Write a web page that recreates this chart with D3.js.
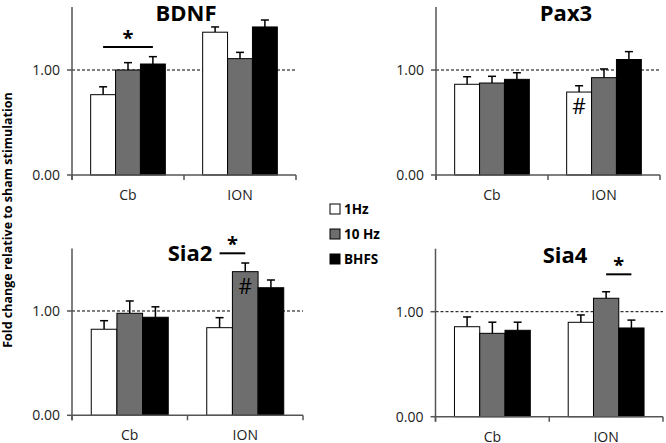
<!DOCTYPE html>
<html><head><meta charset="utf-8">
<script src="https://cdn.jsdelivr.net/npm/d3@7"></script>
<style>body{margin:0;background:#fff}svg{display:block}</style>
</head><body>
<svg id="c" width="666" height="443"></svg>
<script>
const categories = ["Cb", "ION"];
const seriesNames = ["1Hz", "10 Hz", "BHFS"];
const yTicks = [0, 1];
const yTickLabels = ["0.00", "1.00"];

const bdnfMeans = [[0.765, 1.00, 1.057], [1.36, 1.108, 1.41]];
const bdnfErrors = [[0.075, 0.07, 0.07], [0.05, 0.06, 0.066]];
const pax3Means = [[0.864, 0.876, 0.911], [0.79, 0.927, 1.10]];
const pax3Errors = [[0.072, 0.064, 0.063], [0.06, 0.083, 0.075]];
const sia2Means = [[0.825, 0.978, 0.94], [0.84, 1.377, 1.223]];
const sia2Errors = [[0.082, 0.118, 0.10], [0.096, 0.083, 0.074]];
const sia4Means = [[0.857, 0.794, 0.823], [0.899, 1.128, 0.845]];
const sia4Errors = [[0.093, 0.106, 0.077], [0.07, 0.062, 0.075]];

// significance brackets: gene, category, from series, to series, level
const sigBrackets = [
  ["BDNF", "Cb", "1Hz", "BHFS", 1.22],
  ["Sia2", "ION", "1Hz", "10 Hz", 1.553],
  ["Sia4", "ION", "10 Hz", "BHFS", 1.356]
];
// '#' markers: gene, category, series
const hashMarks = [["Pax3", "ION", "1Hz"], ["Sia2", "ION", "10 Hz"]];

const colors = {"1Hz": "#ffffff", "10 Hz": "#6e6e6e", "BHFS": "#000000"};
const FONT = "'Open Sans', 'Liberation Sans', sans-serif";

const panels = [
  {gene: "BDNF", means: bdnfMeans, errors: bdnfErrors, x0: 72, x1: 296, y0: 175, yTop: 7, tx: 186, ty: 21},
  {gene: "Pax3", means: pax3Means, errors: pax3Errors, x0: 436, x1: 660, y0: 175, yTop: 7, tx: 566, ty: 21},
  {gene: "Sia2", means: sia2Means, errors: sia2Errors, x0: 72, x1: 303, y0: 415.3, yTop: 248.4, tx: 190, ty: 261},
  {gene: "Sia4", means: sia4Means, errors: sia4Errors, x0: 435.5, x1: 663, y0: 416.7, yTop: 248.7, tx: 565, ty: 263}
];

const svg = d3.select("#c");
const axisColor = "#555";

panels.forEach(p => {
  const g = svg.append("g");
  const y = d3.scaleLinear().domain([0, 1.6]).range([p.y0, p.yTop]);
  const x = d3.scaleBand().domain(categories).range([p.x0, p.x1]).padding(0);
  const xs = d3.scaleBand().domain(seriesNames).range([0, x.bandwidth()]).paddingInner(0).paddingOuter(0.75);

  // dashed reference line at 1.0
  g.append("line").attr("x1", p.x0).attr("x2", p.x1).attr("y1", y(1)).attr("y2", y(1))
    .attr("stroke", "#000").attr("stroke-width", 1).attr("stroke-dasharray", "3,2");

  // bars + error bars
  categories.forEach((cat, ci) => {
    seriesNames.forEach((s, si) => {
      const v = p.means[ci][si], e = p.errors[ci][si];
      const bx = x(cat) + xs(s), bw = xs.bandwidth(), cx = bx + bw / 2;
      g.append("line").attr("x1", cx).attr("x2", cx).attr("y1", y(v)).attr("y2", y(v + e))
        .attr("stroke", "#000").attr("stroke-width", 1.5);
      g.append("line").attr("x1", cx - 4).attr("x2", cx + 4).attr("y1", y(v + e)).attr("y2", y(v + e))
        .attr("stroke", "#000").attr("stroke-width", 1.5);
      g.append("rect").attr("x", bx).attr("y", y(v)).attr("width", bw).attr("height", y(0) - y(v))
        .attr("fill", colors[s]).attr("stroke", "#000").attr("stroke-width", 1);
    });
  });

  // y axis
  g.append("line").attr("x1", p.x0).attr("x2", p.x0).attr("y1", p.yTop).attr("y2", p.y0 + 5)
    .attr("stroke", axisColor).attr("stroke-width", 1.5);
  yTicks.forEach((t, i) => {
    g.append("line").attr("x1", p.x0 - 5).attr("x2", p.x0).attr("y1", y(t)).attr("y2", y(t))
      .attr("stroke", axisColor).attr("stroke-width", 1.5);
    g.append("text").attr("x", p.x0 - 12).attr("y", y(t)).attr("dy", "0.36em")
      .attr("text-anchor", "end").attr("font-family", FONT).attr("font-size", 14)
      .attr("fill", "#222").text(yTickLabels[i]);
  });
  // x axis
  g.append("line").attr("x1", p.x0).attr("x2", p.x1).attr("y1", y(0)).attr("y2", y(0))
    .attr("stroke", axisColor).attr("stroke-width", 1.5);
  [p.x0, x(categories[1]), p.x1].forEach(tx => {
    g.append("line").attr("x1", tx).attr("x2", tx).attr("y1", y(0)).attr("y2", y(0) + 5)
      .attr("stroke", axisColor).attr("stroke-width", 1.5);
  });
  categories.forEach(cat => {
    g.append("text").attr("x", x(cat) + x.bandwidth() / 2).attr("y", y(0) + 25)
      .attr("text-anchor", "middle").attr("font-family", FONT).attr("font-size", 14)
      .attr("fill", "#222").text(cat);
  });

  // title
  g.append("text").attr("x", p.tx).attr("y", p.ty).attr("text-anchor", "middle")
    .attr("font-family", FONT).attr("font-weight", "bold").attr("font-size", 22)
    .attr("fill", "#000").text(p.gene);

  // significance brackets
  sigBrackets.filter(b => b[0] === p.gene).forEach(b => {
    const xa = x(b[1]) + xs(b[2]) + xs.bandwidth() / 2;
    const xb = x(b[1]) + xs(b[3]) + xs.bandwidth() / 2;
    g.append("line").attr("x1", xa).attr("x2", xb).attr("y1", y(b[4])).attr("y2", y(b[4]))
      .attr("stroke", "#000").attr("stroke-width", 2);
    g.append("text").attr("x", (xa + xb) / 2).attr("y", y(b[4]) - 2).attr("text-anchor", "middle")
      .attr("font-family", FONT).attr("font-weight", "bold").attr("font-size", 20).text("*");
  });

  // hash marks
  hashMarks.filter(h => h[0] === p.gene).forEach(h => {
    const ci = categories.indexOf(h[1]), si = seriesNames.indexOf(h[2]);
    const cx = x(h[1]) + xs(h[2]) + xs.bandwidth() / 2;
    g.append("text").attr("x", cx).attr("y", y(p.means[ci][si]) + 15).attr("dy", "0.35em")
      .attr("text-anchor", "middle").attr("font-family", FONT).attr("font-size", 21)
      .attr("fill", "#000").text("#");
  });
});

// legend
const legend = svg.append("g");
seriesNames.forEach((s, i) => {
  const ly = [209, 234, 259][i];
  legend.append("rect").attr("x", 330).attr("y", ly - 5).attr("width", 10).attr("height", 10)
    .attr("fill", colors[s]).attr("stroke", "#000").attr("stroke-width", 1);
  legend.append("text").attr("x", 344).attr("y", ly).attr("dy", "0.36em")
    .attr("font-family", FONT).attr("font-weight", "bold").attr("font-size", 13.5).text(s);
});

// y-axis title
svg.append("text").attr("transform", "translate(12,220) rotate(-90)")
  .attr("text-anchor", "middle").attr("font-family", FONT).attr("font-weight", "bold")
  .attr("font-size", 12.5).attr("fill", "#000").text("Fold change relative to sham stimulation");
</script>
</body></html>
